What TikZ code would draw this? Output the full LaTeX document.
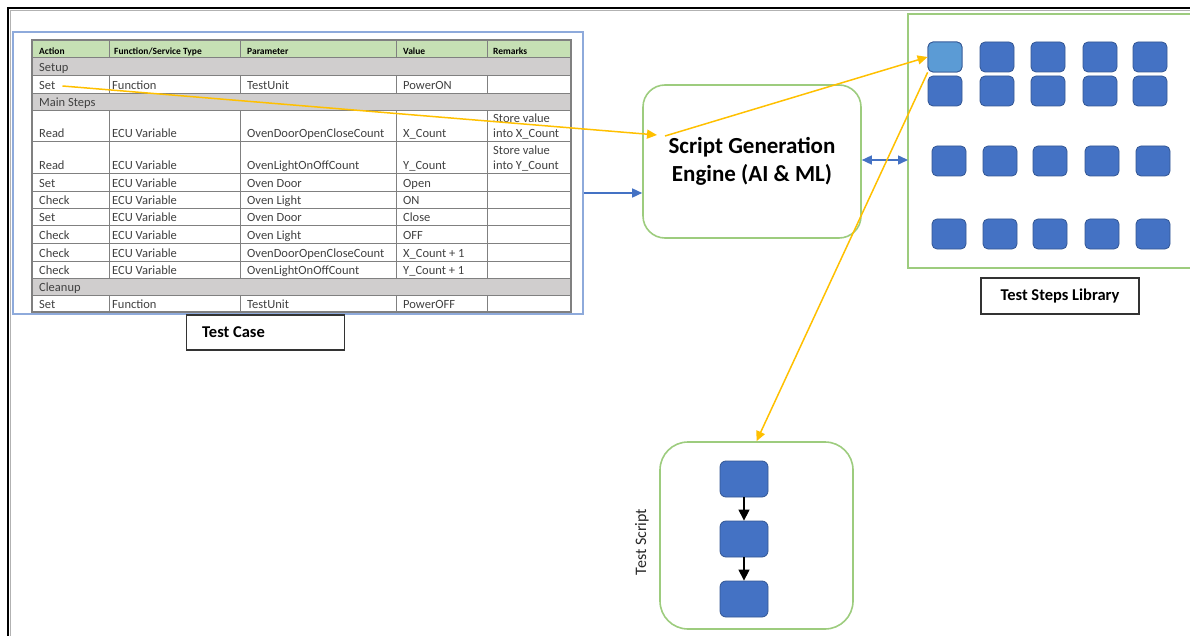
\documentclass[tikz,border=0pt]{standalone}
\usepackage{fontspec}
\setmainfont{Carlito}
\usetikzlibrary{arrows.meta}

\definecolor{gold}{HTML}{FFC000}
\definecolor{officeblue}{HTML}{4472C4}
\definecolor{lightblue}{HTML}{5B9BD5}
\definecolor{framegreen}{HTML}{9DCC7E}
\definecolor{frameblue}{HTML}{8EAADB}
\definecolor{headgreen}{HTML}{C6E0B4}
\definecolor{rowgray}{HTML}{D0CECE}
\definecolor{gridgray}{HTML}{808080}
\definecolor{txtgray}{HTML}{404040}

\tikzset{
	cell/.style={anchor=base west, inner sep=0pt, font=\fontsize{12.5}{15}\selectfont, text=txtgray},
	headcell/.style={anchor=base west, inner sep=0pt, font=\fontsize{9.5}{11}\selectfont\bfseries, text=black},
	stepbox/.style={draw=officeblue!75!black, fill=officeblue, rounded corners=5pt, minimum width=34pt, minimum height=30pt, inner sep=0pt, line width=0.8pt},
	labelbox/.style={draw=black!80, line width=1.3pt, minimum height=35pt, inner sep=0pt, font=\fontsize{16.5}{19}\selectfont\bfseries},
	greenbox/.style={draw=framegreen, line width=1.6pt, inner sep=0pt},
	goldarrow/.style={gold, line width=1.5pt, -{Triangle[length=10pt,width=9pt]}},
	bluearrow/.style={officeblue, line width=1.5pt, -{Triangle[length=10pt,width=9pt]}},
	flowarrow/.style={line width=1.2pt, -{Triangle[length=11pt,width=11pt]}},
}

\begin{document}
\begin{tikzpicture}[x=1pt, y=-1pt]
	\useasboundingbox (0,0) rectangle (1190,636);
	
	\draw [black!30, line width=1pt] (1190,10.5) -- (10.5,10.5) -- (10.5,636);	% shadow
	\draw [line width=2pt] (1190,8) -- (8,8) -- (8,636);						% outer frame
	
	% test case table
	\node [draw=frameblue, line width=1.5pt, minimum width=570pt, minimum height=282pt, inner sep=0pt] (casebox) at (298,173) {};
	\fill [headgreen] (32,40) rectangle (571,58);
	\foreach \t/\b in {58/76, 94/111, 278/295}
		\fill [rowgray] (32,\t) rectangle (571,\b);
	\foreach \y in {40,58,76,94,111,142,174,192,209,226,244,261,278,295,312}
		\draw [gridgray, line width=1pt] (32,\y) -- (571,\y);
	\foreach \t/\b in {40/58, 76/94, 111/142, 142/174, 174/192, 192/209, 209/226, 226/244, 244/261, 261/278, 295/312}
		\foreach \x in {109,240,396,487}
			\draw [gridgray, line width=1pt] (\x,\t) -- (\x,\b);
	\draw [gridgray, line width=1.2pt] (32,40) rectangle (571,312);
	
	\node [headcell] (h1) at (39,55) {Action};
	\node [headcell] (h2) at (114,55) {Function/Service Type};
	\node [headcell] (h3) at (247,55) {Parameter};
	\node [headcell] (h4) at (403,55) {Value};
	\node [headcell] (h5) at (493,55) {Remarks};
	
	\node [cell] (setup) at (39,72) {Setup};
	\node [cell] (mainsteps) at (39,107) {Main Steps};
	\node [cell] (cleanup) at (39,291) {Cleanup};
	
	\node [cell] (setcell) at (39,90) {Set};
	\foreach \y/\f/\p/\v in {90/Function/TestUnit/PowerON}
	{
		\node [cell] (f-\y) at (112,\y) {\f};
		\node [cell] (p-\y) at (247,\y) {\p};
		\node [cell] (v-\y) at (403,\y) {\v};
	}
	\foreach \y/\a/\f/\p/\v in {138/Read/ECU Variable/OvenDoorOpenCloseCount/X\_Count,
			170/Read/ECU Variable/OvenLightOnOffCount/Y\_Count,
			188/Set/ECU Variable/Oven Door/Open,
			205/Check/ECU Variable/Oven Light/ON,
			222/Set/ECU Variable/Oven Door/Close,
			240/Check/ECU Variable/Oven Light/OFF,
			257/Check/ECU Variable/OvenDoorOpenCloseCount/X\_Count + 1,
			274/Check/ECU Variable/OvenLightOnOffCount/Y\_Count + 1,
			308/Set/Function/TestUnit/PowerOFF}
	{
		\node [cell] (a-\y) at (39,\y) {\a};
		\node [cell] (f-\y) at (112,\y) {\f};
		\node [cell] (p-\y) at (247,\y) {\p};
		\node [cell] (v-\y) at (403,\y) {\v};
	}
	\node [cell] (r1a) at (493,123) {Store value};
	\node [cell] (r1b) at (493,138) {into X\_Count};
	\node [cell] (r2a) at (493,155) {Store value};
	\node [cell] (r2b) at (493,170) {into Y\_Count};
	
	\node [labelbox, minimum width=158pt, anchor=west] (caselabel) at (186,332.5) {};
	\node [anchor=west, inner sep=0pt, font=\fontsize{16.5}{19}\selectfont\bfseries] (casetext) at (202,332.5) {Test Case};
	
	% engine
	\node [greenbox, rounded corners=22pt, minimum width=218pt, minimum height=153pt, align=center, font=\fontsize{23}{28}\selectfont\bfseries] (engine) at (752,161.5) {Script Generation\\Engine (AI \& ML)};
	\coordinate (engin) at (657,135);
	\coordinate (engout) at (665,136);
	
	% test steps library
	\draw [framegreen, line width=1.6pt] (1190,14) -| (908,268) -- (1190,268);
	\coordinate (libleft) at (908,160);
	\foreach \r/\y in {1/57, 2/91}
		\foreach \c/\x in {1/945, 2/997, 3/1048, 4/1100, 5/1150}
			\node [stepbox] (lib-\r-\c) at (\x,\y) {};
	\foreach \r/\y in {3/161, 4/234}
		\foreach \c/\x in {1/949, 2/1000, 3/1050, 4/1102, 5/1153}
			\node [stepbox] (lib-\r-\c) at (\x,\y) {};
	\node [stepbox, fill=lightblue] (lib-1-1) at (945,57) {};
	\node [labelbox, minimum width=158pt, minimum height=36pt] (liblabel) at (1060,296) {Test Steps Library};
	
	% test script
	\node [greenbox, rounded corners=28pt, minimum width=193pt, minimum height=187pt] (script) at (756.5,535.5) {};
	\node [rotate=90, font=\fontsize{16}{19}\selectfont, text=black!85] (scriptlabel) at (642,542) {Test Script};
	\node [stepbox, minimum width=48pt, minimum height=36pt, rounded corners=6pt] (s1) at (744,479) {};
	\node [stepbox, minimum width=48pt, minimum height=36pt, rounded corners=6pt] (s2) at (744,539) {};
	\node [stepbox, minimum width=48pt, minimum height=36pt, rounded corners=6pt] (s3) at (744,599) {};
	\draw [flowarrow] (s1) -- (s2);
	\draw [flowarrow] (s2) -- (s3);
	
	% connectors
	\draw [bluearrow] (casebox.east |- 0,193) -- (engine.west |- 0,193);
	\draw [bluearrow, {Triangle[length=10pt,width=9pt]}-{Triangle[length=10pt,width=9pt]}] (engine.east |- 0,160) -- (libleft);
	\draw [goldarrow] ([xshift=7pt]setcell.east) -- (engin);
	\draw [goldarrow] (engout) -- (lib-1-1.west);
	\draw [goldarrow] (lib-1-1.south west) -- (script.north);

\end{tikzpicture}
\end{document}
